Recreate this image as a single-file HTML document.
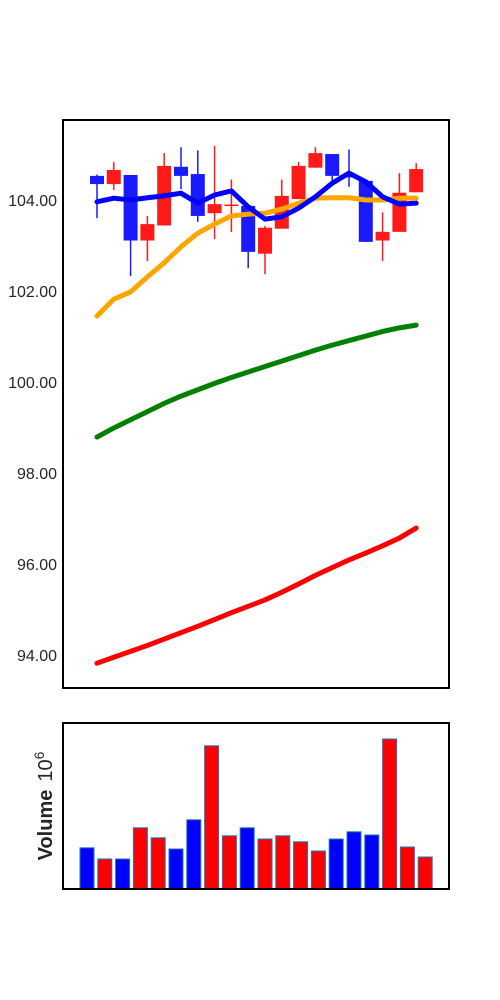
<!DOCTYPE html>
<html><head><meta charset="utf-8"><style>
html,body{margin:0;padding:0;background:#fff;width:500px;height:1000px;overflow:hidden}
svg{display:block}
text{font-family:"Liberation Sans","DejaVu Sans",sans-serif;fill:#262626}
</style></head><body>
<svg id="chart" width="500" height="1000" xmlns="http://www.w3.org/2000/svg">
<rect x="63" y="120" width="386" height="568" fill="#fff"/>
<g id="price"></g>
<rect x="63" y="120" width="386" height="568" fill="none" stroke="#000" stroke-width="2"/>
<rect x="63" y="723" width="386" height="166" fill="#fff"/>
<g id="vol"></g>
<rect x="63" y="723" width="386" height="166" fill="none" stroke="#000" stroke-width="2"/>
<text x="52" y="806" transform="rotate(-90 52 806)" text-anchor="middle" font-size="20"><tspan font-weight="bold">Volume</tspan><tspan dx="8">10</tspan><tspan dy="-8" font-size="14">6</tspan></text>
</svg>
<script>
const opens=[104.53,104.35,104.55,103.11,103.44,104.73,104.57,103.71,103.87,103.87,102.82,103.37,104.02,104.71,105.01,104.53,104.42,103.11,103.30,104.17];
const closes=[104.35,104.66,103.11,103.47,104.75,104.53,103.65,103.91,103.90,102.86,103.39,104.09,104.75,105.03,104.53,104.52,103.08,103.30,104.16,104.68];
const highs=[104.56,104.83,104.55,103.65,105.03,105.16,105.09,105.19,104.45,103.87,103.43,104.45,104.84,105.16,105.01,105.11,104.42,103.73,104.59,104.81];
const lows=[103.60,104.22,102.33,102.66,103.44,104.24,103.52,103.14,103.30,102.50,102.37,103.37,104.02,104.71,104.42,104.29,103.08,102.66,103.30,104.17];
const maBlue=[103.96,104.04,104.00,104.05,104.09,104.15,103.93,104.11,104.20,103.85,103.58,103.63,103.82,104.07,104.37,104.59,104.40,104.07,103.91,103.93];
const maOrange=[101.45,101.82,101.98,102.31,102.62,102.97,103.27,103.47,103.65,103.69,103.71,103.80,103.93,104.04,104.05,104.05,104.00,104.00,104.04,104.04];
const maGreen=[98.79,98.99,99.17,99.35,99.53,99.69,99.83,99.97,100.10,100.22,100.34,100.46,100.58,100.70,100.81,100.91,101.01,101.11,101.19,101.25];
const maRed=[93.82,93.95,94.08,94.21,94.35,94.49,94.63,94.78,94.93,95.07,95.21,95.38,95.56,95.75,95.92,96.09,96.24,96.40,96.57,96.79];
const volumes=[1.03,0.75,0.75,1.53,1.28,1.00,1.73,3.58,1.33,1.53,1.25,1.33,1.18,0.95,1.25,1.43,1.35,3.75,1.05,0.80];
const volColors=['b','r','b','r','r','b','b','r','r','b','r','r','r','r','b','b','b','r','r','r'];
const yTicks=[94,96,98,100,102,104];
const yTickLabels=['94.00','96.00','98.00','100.00','102.00','104.00'];

const NS='http://www.w3.org/2000/svg';
const px=i=>97+i*16.8;
const py=v=>200+(104-v)*45.5;
const vx=i=>87+i*17.8;
const vy=v=>889-v*40;
function mk(t,a,p){const e=document.createElementNS(NS,t);for(const k in a)e.setAttribute(k,a[k]);p.appendChild(e);return e;}
const pg=document.getElementById('price'), vg=document.getElementById('vol'), svg=document.getElementById('chart');

yTicks.forEach((t,i)=>{
  const e=mk('text',{x:57,y:py(t)+6,'text-anchor':'end','font-size':16},svg);
  e.textContent=yTickLabels[i];
  
  
});

opens.forEach((o,i)=>{
  const c=closes[i];
  const col=c>o?'#ff1a1a':'#1a1aff';
  const w=mk('line',{x1:px(i),x2:px(i),y1:py(highs[i]),y2:py(lows[i]),stroke:col,'stroke-width':1.5},pg);
  
  
  const top=py(Math.max(o,c)), bot=py(Math.min(o,c));
  const b=mk('rect',{x:px(i)-7,y:top,width:14,height:Math.max(1.5,bot-top),fill:col},pg);
  
  
});

function line(arr,col,name){
  const d=arr.map((v,i)=>(i?'L':'M')+px(i)+','+py(v)).join(' ');
  const e=mk('path',{d:d,fill:'none',stroke:col,'stroke-width':5,'stroke-linejoin':'round','stroke-linecap':'round'},pg);
  
  
}
line(maRed,'#ff0000','ma-red-line');
line(maGreen,'#008000','ma-green-line');
line(maOrange,'#ffa500','ma-orange-line');
line(maBlue,'#0000ff','ma-blue-line');

volumes.forEach((v,i)=>{
  const e=mk('rect',{x:vx(i)-7,y:vy(v),width:14,height:889-vy(v),fill:volColors[i]==='r'?'#ff0000':'#0000ff',stroke:'#1f77b4','stroke-width':1},vg);
  
  
});
</script>
</body></html>
